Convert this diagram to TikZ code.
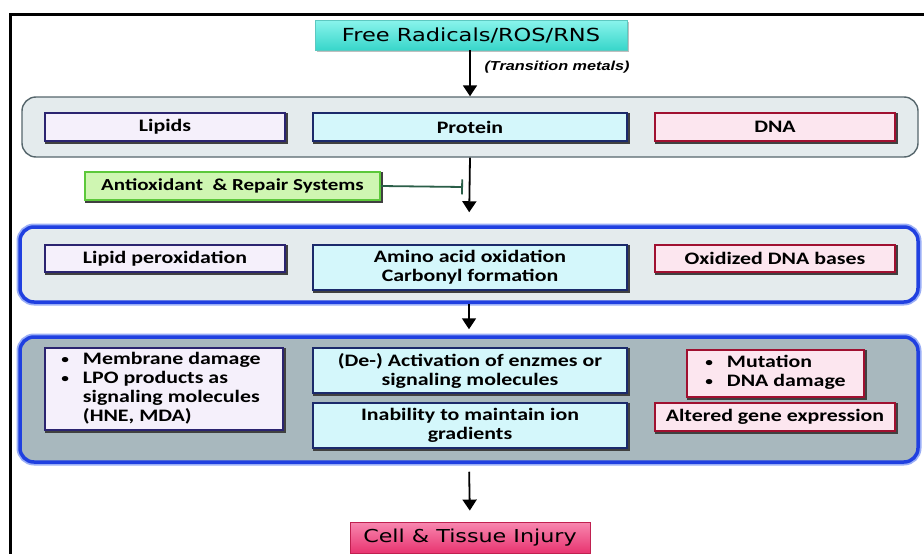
\documentclass[tikz,border=0pt]{standalone}
\usepackage{fontspec}
\setmainfont{Carlito}[FakeStretch=1.25]
\newfontfamily\titlefont{DejaVu Sans}[FakeStretch=1.25]
\newfontfamily\labelfont{Liberation Sans}[FakeStretch=1.25]
\usetikzlibrary{arrows.meta}
\definecolor{titletop}{HTML}{8AF4EC}
\definecolor{titlebot}{HTML}{38D6CA}
\definecolor{titleborder}{HTML}{5CC8C0}
\definecolor{lipfill}{HTML}{F5F0FB}
\definecolor{lipdraw}{HTML}{2B2470}
\definecolor{profill}{HTML}{D4F7FB}
\definecolor{prodraw}{HTML}{1B2A6B}
\definecolor{dnafill}{HTML}{FCE6EF}
\definecolor{dnadraw}{HTML}{A01030}
\definecolor{antfill}{HTML}{CFF6B2}
\definecolor{antdraw}{HTML}{5CC83A}
\definecolor{inhgreen}{HTML}{2A5E48}
\definecolor{injtop}{HTML}{F888B0}
\definecolor{injbot}{HTML}{E83470}
\definecolor{injdraw}{HTML}{C02050}
\definecolor{panelfill}{HTML}{E4EBED}
\definecolor{paneldraw}{HTML}{56666C}
\definecolor{darkpanel}{HTML}{A8B8BE}
\definecolor{panelblue}{HTML}{2040E0}
\definecolor{glowblue}{HTML}{9AAEF6}
\newcommand{\smbul}{\raisebox{0.15ex}{\scalebox{0.7}{\textbullet}}}
\tikzset{
  bx/.style={rectangle, draw, line width=1.6pt, inner sep=0pt, align=center,
    font=\bfseries\fontsize{17.5}{19}\selectfont,
    append after command={
      \pgfextra{\draw[black!75, line width=2pt, line cap=rect]
        ([xshift=1pt,yshift=-2pt]\tikzlastnode.north east) --
        ([xshift=1pt,yshift=-1pt]\tikzlastnode.south east) --
        ([xshift=2pt,yshift=-1pt]\tikzlastnode.south west);}}},
  lipbox/.style={bx, fill=lipfill, draw=lipdraw},
  probox/.style={bx, fill=profill, draw=prodraw},
  dnabox/.style={bx, fill=dnafill, draw=dnadraw},
  panel/.style={rectangle, rounded corners=14pt, inner sep=0pt},
  greypanel/.style={panel, fill=panelfill, draw=paneldraw, line width=1.4pt},
  bluepanel/.style={panel, draw=panelblue, line width=3.5pt,
    preaction={draw=glowblue, line width=7pt}},
  flow/.style={-{Triangle[width=14pt,length=11pt]}, line width=1.8pt, black},
}
\begin{document}
\begin{tikzpicture}[x=1pt,y=-1pt]
\useasboundingbox (0,0) rectangle (924,554);
\fill[white] (0,0) rectangle (924,554);
\draw[line width=3pt] (10,554) -- (10,14) -- (924,14);

% panels
\node[greypanel, minimum width=896pt, minimum height=60pt] (p1) at (470,127) {};
\node[bluepanel, fill=panelfill, minimum width=898pt, minimum height=75pt] (p2) at (469,264.5) {};
\node[bluepanel, fill=darkpanel, minimum width=898pt, minimum height=125pt] (p3) at (469,399.5) {};

% top
\fill[black!25] (316.5,22) rectangle (629,52);
\node[rectangle, draw=titleborder, line width=0.8pt, top color=titletop, bottom color=titlebot,
  minimum width=312pt, minimum height=30pt, inner sep=0pt,
  font=\titlefont\fontsize{18}{20}\selectfont] (top) at (471,35) {Free Radicals/ROS/RNS};

% row 1
\node[lipbox, minimum width=240pt, minimum height=28pt] (lipids) at (165,127) {Lipids};
\node[probox, minimum width=314pt, minimum height=28pt] (protein) at (470,127) {Protein};
\node[dnabox, minimum width=240pt, minimum height=28pt] (dna) at (775,127) {DNA};

\node[bx, fill=antfill, draw=antdraw, minimum width=295pt, minimum height=28pt, font=\bfseries\fontsize{16.8}{19}\selectfont] (antiox) at (232.5,186) {Antioxidant\ \ \&\ Repair Systems};

% row 2
\node[lipbox, minimum width=240pt, minimum height=27pt] (lperox) at (165,258.5) {Lipid peroxidation};
\node[probox, minimum width=314pt, minimum height=45pt] (amino) at (470,267.5) {Amino acid oxidation\\Carbonyl formation};
\node[dnabox, minimum width=240pt, minimum height=27pt] (oxdna) at (775,258.5) {Oxidized DNA bases};

% row 3
\node[lipbox, minimum width=238pt, minimum height=82pt, align=left] (membrane) at (164,389)
  {\hspace*{-6pt}\begin{tabular}{@{}l@{\hspace{14pt}}l@{}}\smbul & Membrane damage\\ \smbul & LPO products as\\ & signaling molecules\\ & (HNE, MDA)\end{tabular}};
\node[probox, minimum width=314pt, minimum height=45pt] (deact) at (470,370.5) {(De-) Activation of enzmes or\\signaling molecules};
\node[probox, minimum width=314pt, minimum height=45pt] (inab) at (470,425.5) {Inability to maintain ion\\gradients};
\node[dnabox, minimum width=177pt, minimum height=47pt, align=left] (mutation) at (775.5,373.5)
  {\begin{tabular}{@{}l@{\hspace{14pt}}l@{}}\smbul & Mutation\\ \smbul & DNA damage\end{tabular}};
\node[dnabox, minimum width=240pt, minimum height=28pt] (altered) at (775,417) {Altered gene expression};

% bottom
\node[rectangle, draw=injdraw, line width=0.8pt, top color=injtop, bottom color=injbot,
  minimum width=240pt, minimum height=31pt, inner sep=0pt,
  font=\titlefont\fontsize{17.8}{20}\selectfont] (injury) at (470,537.5) {Cell \& Tissue Injury};

% connectors
\draw[flow] (top.south -| 470,0) -- (p1.north);
\node[anchor=west, font=\labelfont\bfseries\itshape\fontsize{13}{14}\selectfont] (tm) at (481,67) {(Transition metals)};
\draw[flow, shorten >=13pt] (p1.south) -- (p2.north);
\coordinate (inh) at (463,187);
\draw[-{Bar[width=15pt]}, line width=1.8pt, inhgreen] (antiox.east) -- (inh);
\draw[flow, shorten >=6pt] (p2.south) -- (p3.north);
\draw[flow, shorten <=8pt, shorten >=11pt] (p3.south) -- (injury.north);
\end{tikzpicture}
\end{document}
